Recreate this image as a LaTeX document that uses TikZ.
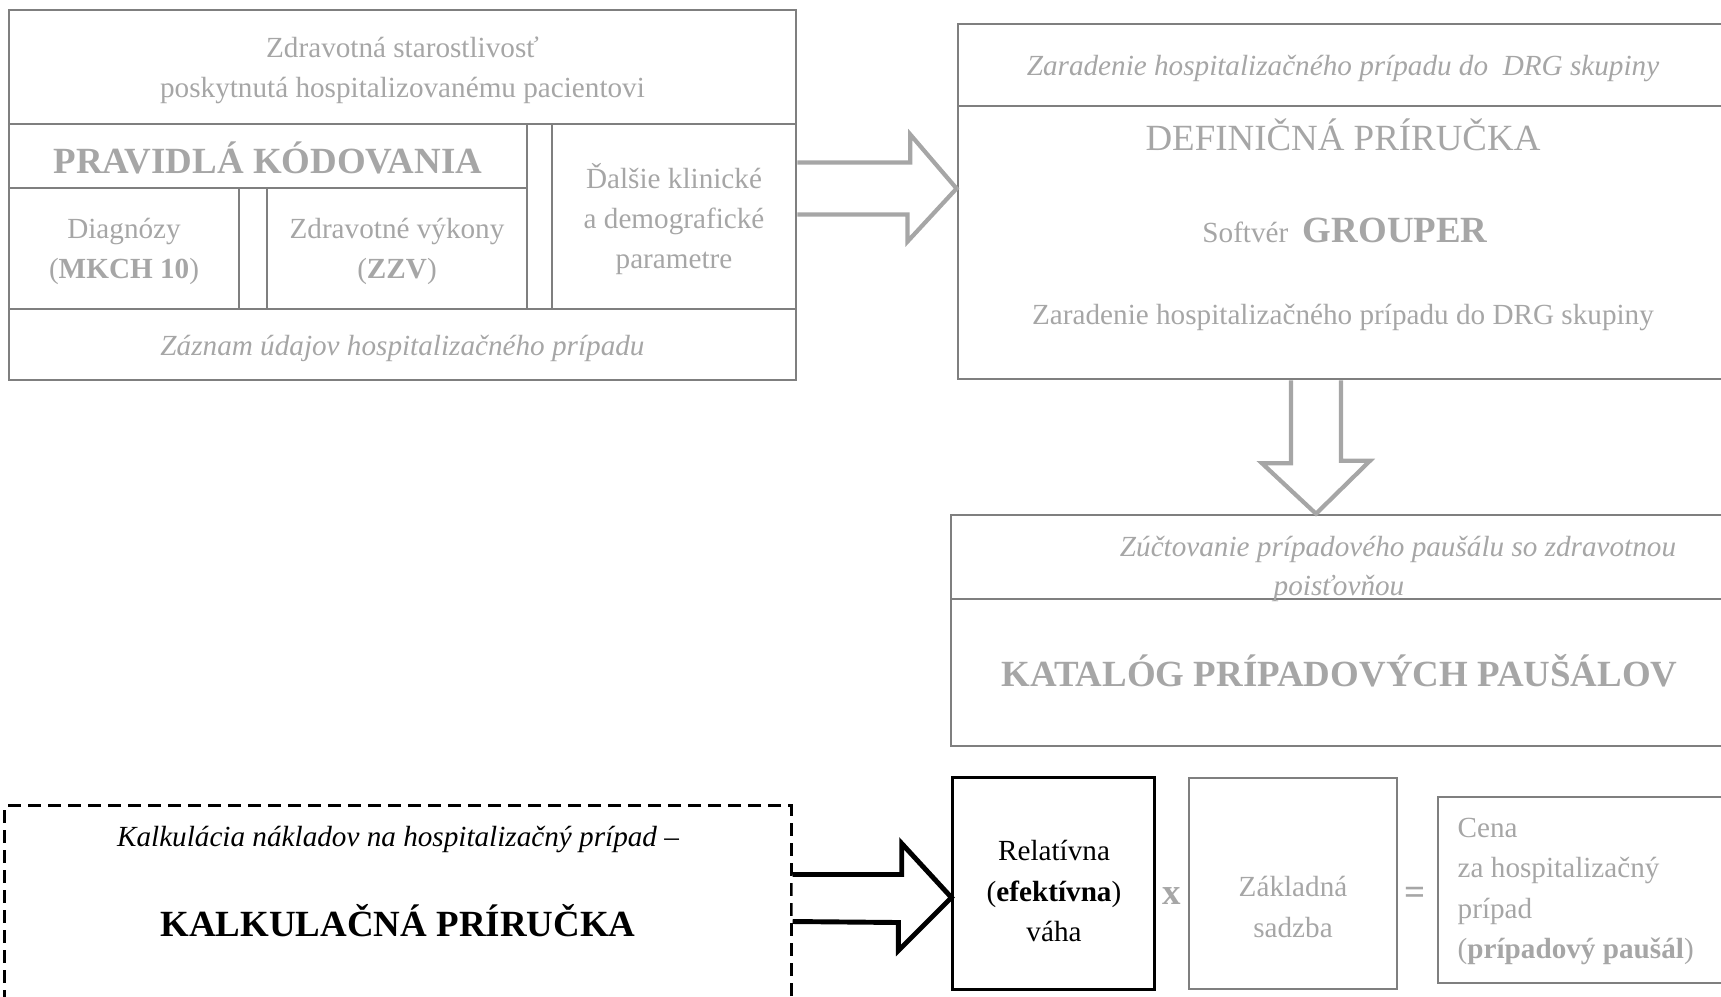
\documentclass[tikz,border=0pt]{standalone}
\usepackage{fontspec}
\setmainfont{Liberation Serif}
\usetikzlibrary{calc}
\definecolor{linegray}{HTML}{7F7F7F}
\definecolor{txtgray}{HTML}{A6A6A6}
\definecolor{arrgray}{HTML}{A6A6A6}
\newcommand{\txtsz}{\fontsize{8.3}{11.4}\selectfont}
\newcommand{\headsz}{\fontsize{10.5}{13}\selectfont}

\begin{document}
\begin{tikzpicture}[x=0.01cm,y=-0.01cm,
  box/.style={draw=linegray, line width=0.7pt, inner sep=0pt},
  txt/.style={inner sep=0pt, text=txtgray, align=center, font=\txtsz},
  grayblock/.style={draw=arrgray, line width=1.2pt, fill=white},
  blackblock/.style={draw=black, line width=1.4pt, fill=white}]
\useasboundingbox (0,0) rectangle (1721,996);
\clip (0,0) rectangle (1721,996);

% record of the case
\node[box, minimum width=7.87cm, minimum height=1.14cm] (care) at (402.5,67) {};
\node[box, minimum width=5.18cm, minimum height=0.64cm] (rules) at (268,156) {};
\node[box, minimum width=2.30cm, minimum height=1.21cm] (diag) at (124,248.5) {};
\node[box, minimum width=2.60cm, minimum height=1.21cm] (proc) at (397,248.5) {};
\node[box, minimum width=2.44cm, minimum height=1.85cm] (other) at (674,216.5) {};
\node[box, minimum width=7.87cm, minimum height=0.71cm] (record) at (402.5,344.5) {};
\node[txt] (caretxt) at (402.5,70.5) {Zdravotná starostlivosť\\poskytnutá hospitalizovanému pacientovi};
\node[txt, font=\headsz\bfseries] (rulestxt) at (268,158) {PRAVIDLÁ KÓDOVANIA};
\node[txt] (diagtxt) at (124,251.5) {Diagnózy\\(\textbf{MKCH 10})};
\node[txt] (proctxt) at (397,251.5) {Zdravotné výkony\\(\textbf{ZZV})};
\node[txt] (othertxt) at (674,219) {Ďalšie klinické\\a demografické\\parametre};
\node[txt, font=\txtsz\itshape] (recordtxt) at (402.5,348.5) {Záznam údajov hospitalizačného prípadu};

% grouping
\node[box, minimum width=7.70cm, minimum height=0.82cm] (drghead) at (1343,65) {};
\node[box, minimum width=7.70cm, minimum height=2.73cm] (def) at (1343,242.5) {};
\node[txt, font=\txtsz\itshape] (drgheadtxt) at (1343,68.5) {Zaradenie hospitalizačného prípadu do\ \ DRG skupiny};
\node[txt, font=\headsz] (defttl) at (1343,135) {DEFINIČNÁ PRÍRUČKA};
\node[txt] (grouper) at (1345,230) {Softvér\ \ {\headsz\bfseries GROUPER}};
\node[txt] (drgtxt) at (1343,317) {Zaradenie hospitalizačného prípadu do DRG skupiny};

% catalogue
\node[box, minimum width=7.77cm, minimum height=0.84cm] (settle) at (1339.5,557) {};
\node[box, minimum width=7.77cm, minimum height=1.47cm] (catalog) at (1339.5,672.5) {};
\node[txt, font=\txtsz\itshape] (settletxt) at (1398,549) {Zúčtovanie prípadového paušálu so zdravotnou};
\node[txt, font=\txtsz\itshape] (insurer) at (1339,588) {poisťovňou};
\node[txt, font=\headsz\bfseries] (catalogtxt) at (1339.5,670.5) {KATALÓG PRÍPADOVÝCH PAUŠÁLOV};

% cost calculation and price
\node[draw, line width=0.85pt, dash pattern=on 0.13cm off 0.07cm, minimum width=7.86cm, minimum height=2.24cm] (costcalc) at (398,918) {};
\node[txt, text=black, font=\txtsz\itshape] (calctitle) at (398,839) {Kalkulácia nákladov na hospitalizačný prípad –};
\node[txt, text=black, font=\headsz\bfseries] (calcbook) at (398,921) {KALKULAČNÁ PRÍRUČKA};
\node[draw, line width=0.85pt, minimum width=2.01cm, minimum height=2.11cm] (weight) at (1053.5,883.5) {};
\node[txt, text=black] (weighttxt) at (1054,891) {Relatívna\\(\textbf{efektívna})\\váha};
\node[txt, font=\headsz\bfseries] (times) at (1172,896) {x};
\node[box, minimum width=2.08cm, minimum height=2.11cm] (base) at (1293,883.5) {};
\node[txt] (basetxt) at (1293,907) {Základná\\sadzba};
\node[txt, font=\headsz\bfseries] (equals) at (1415,896) {=};
\node[box, minimum width=3.10cm, minimum height=1.86cm] (price) at (1593,890) {};
\node[txt, align=left, anchor=west] (pricetxt) at (1457,891.5) {Cena\\za hospitalizačný\\prípad\\(\textbf{prípadový paušál})};

% block arrows
\coordinate (r0) at ($(other.east)+(0,-28)$);
\draw[grayblock] ($(r0)+(0,-26)$) -- ++(113,0) -- ++(0,-28) -- (def.west |- r0) -- ++(-49,53) -- ++(0,-27) -- ($(r0)+(0,26)$);
\coordinate (d0) at ($(def.south)+(-27,0)$);
\draw[grayblock] ($(d0)+(-25,0)$) -- ++(0,83) -- ++(-29,0) -- (d0 |- settle.north) -- ++(54,-53) -- ++(-29,0) -- ($(d0)+(25,0)$);
\coordinate (b0) at ($(costcalc.east |- weight.west)+(0,14)$);
\draw[blackblock] ($(b0)+(0,-23)$) -- ++(109,0) -- ++(0,-31) -- (weight.west |- b0) -- ++(-53,53) -- ++(0,-28) -- ($(b0)+(0,24)$);

\end{tikzpicture}
\end{document}
